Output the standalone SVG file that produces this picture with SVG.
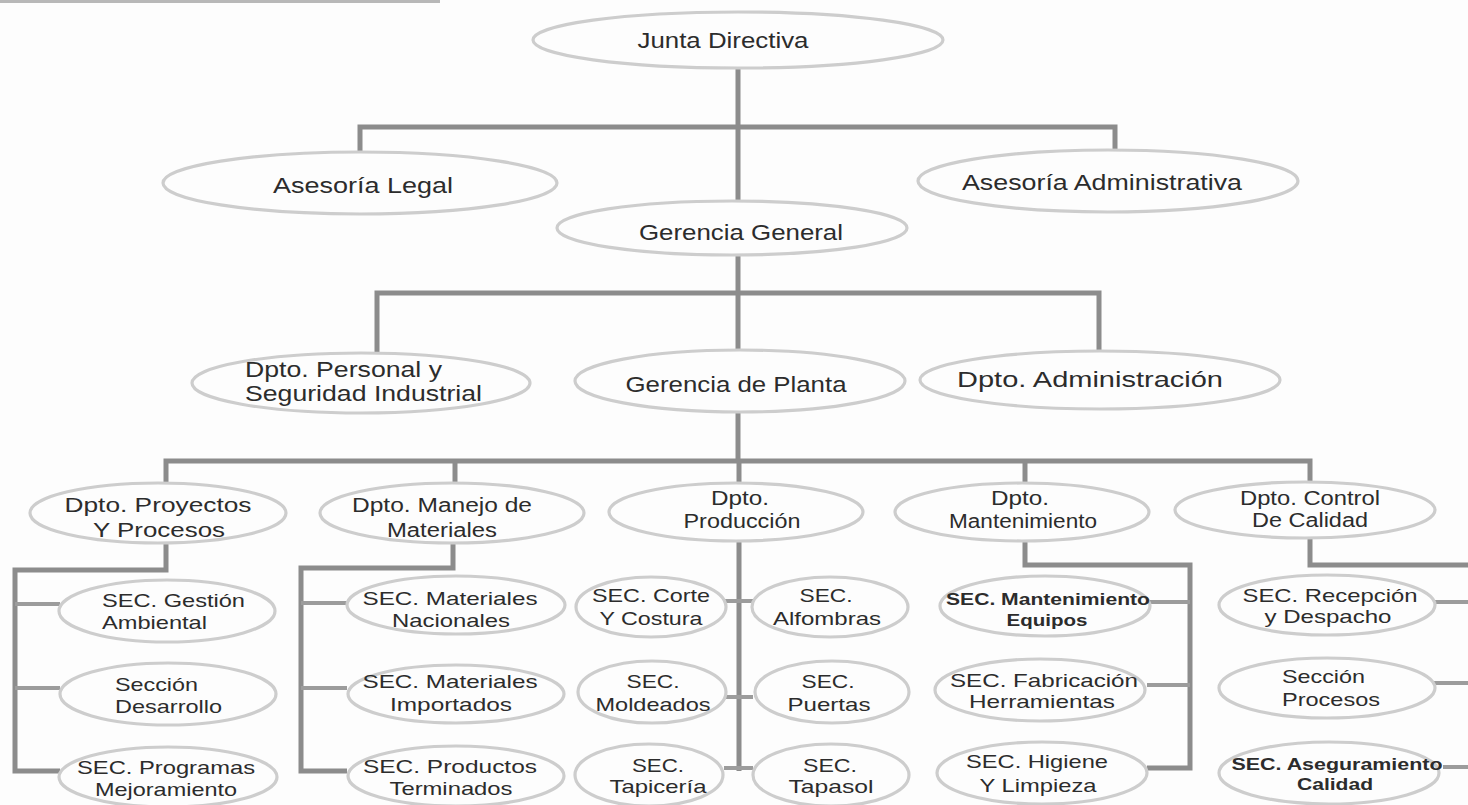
<svg xmlns="http://www.w3.org/2000/svg" width="1468" height="805" viewBox="0 0 1468 805">
  <style>
    .bg { fill: #fdfdfd; }
    .node ellipse { fill: none; stroke: #cdcdcd; stroke-width: 3.2; }
    .node text { font-family: "Liberation Sans", Arial, sans-serif; fill: #2c2c2c; text-anchor: middle; }
    .node text.l { text-anchor: start; }
    .big text { font-size: 22px; }
    .mid text { font-size: 20px; }
    .small text { font-size: 18.5px; }
    .node text.b { font-weight: bold; font-size: 16px; }
    #connectors path { fill: none; stroke: #8c8c8c; stroke-width: 5; stroke-linecap: butt; stroke-linejoin: miter; }
    #connectors path.br { stroke: #9c9c9c; stroke-width: 4; }
  </style>
  <rect class="bg" x="0" y="0" width="1468" height="805"/>
  <!-- clipped heading strip along the top edge -->
  <rect x="0" y="0" width="440" height="3" fill="#8a8a8a" opacity="0.6"/>

  <g id="connectors">
    <!-- board -> general management, advisory bar -->
    <path d="M738 68 V200"/>
    <path d="M360 152 V127 H1115 V150"/>
    <!-- general management -> departments -->
    <path d="M738 255 V350"/>
    <path d="M377 353 V293 H1099 V350"/>
    <!-- plant management -> plant departments -->
    <path d="M738 412 V461"/>
    <path d="M166 483 V461 H1310 V482"/>
    <path d="M455 461 V483"/>
    <path d="M1025 461 V483"/>
    <path d="M739 461 V483"/>
    <!-- projects -->
    <path d="M166 543 V570 H15 V771 H60"/>
    <path class="br" d="M15 604 H60"/>
    <path class="br" d="M15 688 H60"/>
    <!-- materials handling -->
    <path d="M453 543 V568 H301 V771 H347"/>
    <path class="br" d="M301 603 H347"/>
    <path class="br" d="M301 688 H347"/>
    <!-- production -->
    <path d="M739 541 V771"/>
    <path class="br" d="M724 601 H753"/>
    <path class="br" d="M724 697 H753"/>
    <path class="br" d="M724 768 H753"/>
    <!-- maintenance -->
    <path d="M1025 542 V565 H1190 V768 H1147"/>
    <path class="br" d="M1150 602 H1190"/>
    <path class="br" d="M1147 685 H1190"/>
    <!-- quality control -->
    <path d="M1310 538 V565 H1470"/>
    <path class="br" d="M1435 602 H1470"/>
    <path class="br" d="M1434 683 H1470"/>
    <path class="br" d="M1443 767 H1470"/>
  </g>

  <!-- top levels -->
  <g id="junta-directiva" class="node big">
    <ellipse cx="738" cy="40" rx="205" ry="28"/>
    <text x="723" y="48" textLength="171" lengthAdjust="spacingAndGlyphs">Junta Directiva</text>
  </g>
  <g id="asesoria-legal" class="node big">
    <ellipse cx="360" cy="183" rx="197" ry="31"/>
    <text x="363" y="193" textLength="180" lengthAdjust="spacingAndGlyphs">Asesoría Legal</text>
  </g>
  <g id="asesoria-administrativa" class="node big">
    <ellipse cx="1108" cy="181" rx="190" ry="31"/>
    <text x="1102" y="190" textLength="280" lengthAdjust="spacingAndGlyphs">Asesoría Administrativa</text>
  </g>
  <g id="gerencia-general" class="node big">
    <ellipse cx="732" cy="228" rx="175" ry="27"/>
    <text x="741" y="240" textLength="204" lengthAdjust="spacingAndGlyphs">Gerencia General</text>
  </g>
  <g id="dpto-personal" class="node big">
    <ellipse cx="361" cy="383" rx="169" ry="30"/>
    <text class="l" x="245" y="377" textLength="197" lengthAdjust="spacingAndGlyphs">Dpto. Personal y</text>
    <text class="l" x="245" y="401" textLength="237" lengthAdjust="spacingAndGlyphs">Seguridad Industrial</text>
  </g>
  <g id="gerencia-planta" class="node big">
    <ellipse cx="740" cy="381" rx="165" ry="31"/>
    <text x="736" y="392" textLength="221" lengthAdjust="spacingAndGlyphs">Gerencia de Planta</text>
  </g>
  <g id="dpto-administracion" class="node big">
    <ellipse cx="1100" cy="380" rx="180" ry="29"/>
    <text x="1090" y="387" textLength="266" lengthAdjust="spacingAndGlyphs">Dpto. Administración</text>
  </g>

  <!-- plant departments -->
  <g id="dpto-proyectos" class="node mid">
    <ellipse cx="158" cy="513" rx="128" ry="30"/>
    <text x="158" y="512" textLength="187" lengthAdjust="spacingAndGlyphs">Dpto. Proyectos</text>
    <text x="159" y="537" textLength="132" lengthAdjust="spacingAndGlyphs">Y Procesos</text>
  </g>
  <g id="dpto-manejo" class="node mid">
    <ellipse cx="452" cy="513" rx="132" ry="30"/>
    <text x="442" y="512" textLength="180" lengthAdjust="spacingAndGlyphs">Dpto. Manejo de</text>
    <text x="442" y="537" textLength="110" lengthAdjust="spacingAndGlyphs">Materiales</text>
  </g>
  <g id="dpto-produccion" class="node mid">
    <ellipse cx="736" cy="512" rx="127" ry="29"/>
    <text x="740" y="505" textLength="58" lengthAdjust="spacingAndGlyphs">Dpto.</text>
    <text x="742" y="528" textLength="117" lengthAdjust="spacingAndGlyphs">Producción</text>
  </g>
  <g id="dpto-mantenimiento" class="node mid">
    <ellipse cx="1022" cy="512" rx="127" ry="29"/>
    <text x="1020" y="505" textLength="58" lengthAdjust="spacingAndGlyphs">Dpto.</text>
    <text x="1023" y="528" textLength="148" lengthAdjust="spacingAndGlyphs">Mantenimiento</text>
  </g>
  <g id="dpto-control-calidad" class="node mid">
    <ellipse cx="1305" cy="510" rx="130" ry="28"/>
    <text x="1310" y="505" textLength="140" lengthAdjust="spacingAndGlyphs">Dpto. Control</text>
    <text x="1310" y="527" textLength="116" lengthAdjust="spacingAndGlyphs">De Calidad</text>
  </g>

  <!-- sections: projects -->
  <g id="sec-gestion-ambiental" class="node small">
    <ellipse cx="167" cy="611" rx="108" ry="31"/>
    <text class="l" x="102" y="607" textLength="143" lengthAdjust="spacingAndGlyphs">SEC. Gestión</text>
    <text class="l" x="102" y="629" textLength="105" lengthAdjust="spacingAndGlyphs">Ambiental</text>
  </g>
  <g id="seccion-desarrollo" class="node small">
    <ellipse cx="168" cy="694" rx="108" ry="31"/>
    <text class="l" x="115" y="691" textLength="83" lengthAdjust="spacingAndGlyphs">Sección</text>
    <text class="l" x="115" y="713" textLength="107" lengthAdjust="spacingAndGlyphs">Desarrollo</text>
  </g>
  <g id="sec-programas-mejoramiento" class="node small">
    <ellipse cx="168" cy="777" rx="109" ry="30"/>
    <text x="166" y="774" textLength="178" lengthAdjust="spacingAndGlyphs">SEC. Programas</text>
    <text x="166" y="796" textLength="142" lengthAdjust="spacingAndGlyphs">Mejoramiento</text>
  </g>

  <!-- sections: materials handling -->
  <g id="sec-materiales-nacionales" class="node small">
    <ellipse cx="456" cy="605" rx="109" ry="29"/>
    <text x="450" y="605" textLength="175" lengthAdjust="spacingAndGlyphs">SEC. Materiales</text>
    <text x="451" y="627" textLength="118" lengthAdjust="spacingAndGlyphs">Nacionales</text>
  </g>
  <g id="sec-materiales-importados" class="node small">
    <ellipse cx="456" cy="694" rx="108" ry="29"/>
    <text x="450" y="688" textLength="175" lengthAdjust="spacingAndGlyphs">SEC. Materiales</text>
    <text x="451" y="711" textLength="122" lengthAdjust="spacingAndGlyphs">Importados</text>
  </g>
  <g id="sec-productos-terminados" class="node small">
    <ellipse cx="456" cy="776" rx="108" ry="30"/>
    <text x="450" y="773" textLength="174" lengthAdjust="spacingAndGlyphs">SEC. Productos</text>
    <text x="451" y="795" textLength="123" lengthAdjust="spacingAndGlyphs">Terminados</text>
  </g>

  <!-- sections: production -->
  <g id="sec-corte-costura" class="node small">
    <ellipse cx="651" cy="607" rx="75" ry="30"/>
    <text x="651" y="602" textLength="118" lengthAdjust="spacingAndGlyphs">SEC. Corte</text>
    <text x="651" y="625" textLength="103" lengthAdjust="spacingAndGlyphs">Y Costura</text>
  </g>
  <g id="sec-moldeados" class="node small">
    <ellipse cx="652" cy="692" rx="74" ry="31"/>
    <text x="653" y="688" textLength="53" lengthAdjust="spacingAndGlyphs">SEC.</text>
    <text x="653" y="711" textLength="115" lengthAdjust="spacingAndGlyphs">Moldeados</text>
  </g>
  <g id="sec-tapiceria" class="node small">
    <ellipse cx="649" cy="775" rx="74" ry="31"/>
    <text x="658" y="772" textLength="52" lengthAdjust="spacingAndGlyphs">SEC.</text>
    <text x="658" y="793" textLength="97" lengthAdjust="spacingAndGlyphs">Tapicería</text>
  </g>
  <g id="sec-alfombras" class="node small">
    <ellipse cx="830" cy="607" rx="78" ry="30"/>
    <text x="826" y="602" textLength="53" lengthAdjust="spacingAndGlyphs">SEC.</text>
    <text x="827" y="625" textLength="108" lengthAdjust="spacingAndGlyphs">Alfombras</text>
  </g>
  <g id="sec-puertas" class="node small">
    <ellipse cx="832" cy="692" rx="77" ry="31"/>
    <text x="828" y="688" textLength="53" lengthAdjust="spacingAndGlyphs">SEC.</text>
    <text x="829" y="711" textLength="83" lengthAdjust="spacingAndGlyphs">Puertas</text>
  </g>
  <g id="sec-tapasol" class="node small">
    <ellipse cx="831" cy="775" rx="78" ry="31"/>
    <text x="830" y="772" textLength="54" lengthAdjust="spacingAndGlyphs">SEC.</text>
    <text x="831" y="793" textLength="85" lengthAdjust="spacingAndGlyphs">Tapasol</text>
  </g>

  <!-- sections: maintenance -->
  <g id="sec-mantenimiento-equipos" class="node small">
    <ellipse cx="1045" cy="606" rx="105" ry="30"/>
    <text class="b" x="1048" y="605" textLength="204" lengthAdjust="spacingAndGlyphs">SEC. Mantenimiento</text>
    <text class="b" x="1047" y="626" textLength="81" lengthAdjust="spacingAndGlyphs">Equipos</text>
  </g>
  <g id="sec-fabricacion-herramientas" class="node small">
    <ellipse cx="1040" cy="690" rx="105" ry="31"/>
    <text x="1044" y="687" textLength="188" lengthAdjust="spacingAndGlyphs">SEC. Fabricación</text>
    <text x="1042" y="708" textLength="146" lengthAdjust="spacingAndGlyphs">Herramientas</text>
  </g>
  <g id="sec-higiene-limpieza" class="node small">
    <ellipse cx="1042" cy="773" rx="105" ry="31"/>
    <text x="1037" y="768" textLength="142" lengthAdjust="spacingAndGlyphs">SEC. Higiene</text>
    <text x="1038" y="792" textLength="117" lengthAdjust="spacingAndGlyphs">Y Limpieza</text>
  </g>

  <!-- sections: quality control -->
  <g id="sec-recepcion-despacho" class="node small">
    <ellipse cx="1327" cy="605" rx="108" ry="30"/>
    <text x="1330" y="602" textLength="175" lengthAdjust="spacingAndGlyphs">SEC. Recepción</text>
    <text x="1328" y="623" textLength="127" lengthAdjust="spacingAndGlyphs">y Despacho</text>
  </g>
  <g id="seccion-procesos" class="node small">
    <ellipse cx="1327" cy="688" rx="108" ry="30"/>
    <text class="l" x="1282" y="683" textLength="83" lengthAdjust="spacingAndGlyphs">Sección</text>
    <text class="l" x="1282" y="706" textLength="98" lengthAdjust="spacingAndGlyphs">Procesos</text>
  </g>
  <g id="sec-aseguramiento-calidad" class="node small">
    <ellipse cx="1329" cy="773" rx="110" ry="31"/>
    <text class="b" x="1337" y="770" textLength="211" lengthAdjust="spacingAndGlyphs">SEC. Aseguramiento</text>
    <text class="b" x="1335" y="790" textLength="76" lengthAdjust="spacingAndGlyphs">Calidad</text>
  </g>
</svg>
